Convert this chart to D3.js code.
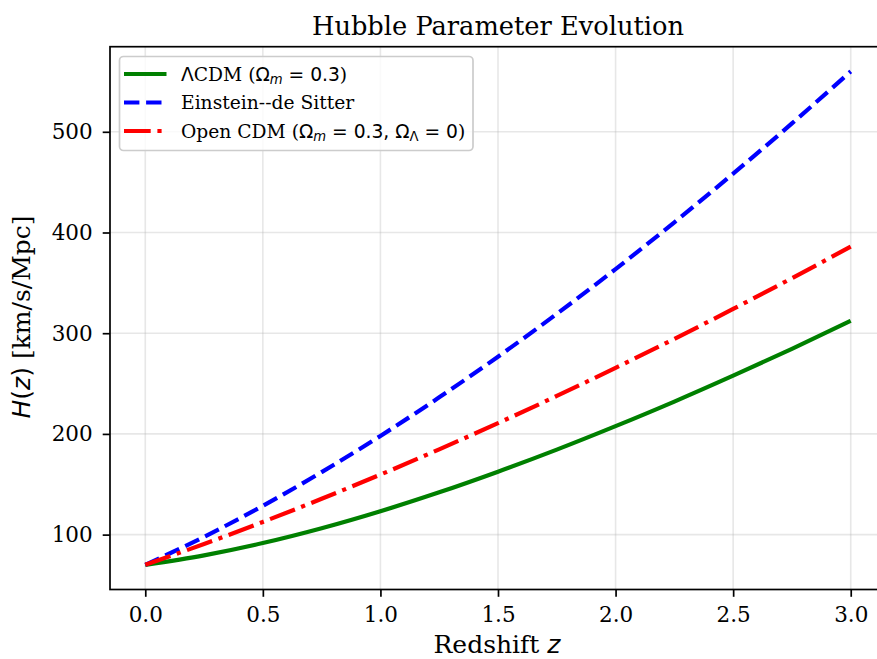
<!DOCTYPE html>
<html lang="en">
<head>
<meta charset="UTF-8">
<title>Hubble Parameter Evolution</title>
<style>
  body { margin: 0; background: #fff; }
  svg { display: block; }
  text { font-family: "DejaVu Serif", serif; fill: #000; }
  .m { font-family: "DejaVu Sans", sans-serif; }
</style>
</head>
<body>
<div id="chart"></div>
<script src="https://cdn.jsdelivr.net/npm/d3@7/dist/d3.min.js"></script>
<script>
  // values (km/s/Mpc)
  const redshift = [0, 0.25, 0.5, 0.75, 1.0, 1.25, 1.5, 1.75, 2.0, 2.25, 2.5, 2.75, 3.0];
  const lcdm     = [70, 79.4, 91.6, 106.3, 123.2, 142.0, 162.5, 184.4, 207.7, 232.1, 257.8, 284.5, 312.3];
  const eds      = [70, 97.8, 128.6, 162.1, 198.0, 236.3, 276.7, 319.2, 363.7, 410.1, 458.4, 508.3, 560.0];
  const openCdm  = [70, 90.7, 112.6, 135.6, 159.6, 184.7, 210.7, 237.7, 265.6, 294.4, 324.1, 354.6, 386.0];
  const xTicks = [0, 0.5, 1.0, 1.5, 2.0, 2.5, 3.0];
  const yTicks = [100, 200, 300, 400, 500];

  const W = 877, H = 659;
  const plotL = 110, plotR = 886, plotT = 46.7, plotB = 589.5;

  const svg = d3.select("#chart").append("svg")
    .attr("width", W)
    .attr("height", H);

  const x = d3.scaleLinear().domain([-0.15, 3.15]).range([plotL, plotR]);
  const y = d3.scaleLinear().domain([45.5, 584.5]).range([plotB, plotT]);

  // grid
  svg.append("g").selectAll("line").data(xTicks).join("line")
    .attr("x1", d => x(d)).attr("x2", d => x(d))
    .attr("y1", plotT).attr("y2", plotB)
    .attr("stroke", "#b0b0b0").attr("stroke-opacity", 0.3).attr("stroke-width", 1.6);
  svg.append("g").selectAll("line").data(yTicks).join("line")
    .attr("x1", plotL).attr("x2", plotR)
    .attr("y1", d => y(d)).attr("y2", d => y(d))
    .attr("stroke", "#b0b0b0").attr("stroke-opacity", 0.3).attr("stroke-width", 1.6);

  const series = [
    { name: "lcdm", values: lcdm, color: "green", dash: null },
    { name: "eds", values: eds, color: "blue", dash: "15.4,6.7" },
    { name: "open", values: openCdm, color: "red", dash: "26.7,6.7,4.2,6.7" }
  ];

  const line = d3.line()
    .x((d, i) => x(redshift[i]))
    .y(d => y(d))
    .curve(d3.curveMonotoneX);

  svg.append("g").selectAll("path").data(series).join("path")
    .attr("fill", "none")
    .attr("stroke", d => d.color)
    .attr("stroke-width", 4.2)
    .attr("stroke-dasharray", d => d.dash)
    .attr("d", d => line(d.values));

  // axes
  const xAxis = svg.append("g")
    .attr("transform", "translate(0," + plotB + ")")
    .call(d3.axisBottom(x).tickValues(xTicks).tickFormat(d3.format(".1f")).tickSizeOuter(0).tickSize(7.3).tickPadding(10));
  const yAxis = svg.append("g")
    .attr("transform", "translate(" + plotL + ",0)")
    .call(d3.axisLeft(y).tickValues(yTicks).tickSizeOuter(0).tickSize(7.3).tickPadding(10));
  [xAxis, yAxis].forEach(a => {
    a.select(".domain").remove();
    a.selectAll(".tick line").attr("stroke", "#000").attr("stroke-width", 1.7);
    a.selectAll(".tick text").attr("font-family", "DejaVu Serif").attr("font-size", 21.5).attr("fill", "#000");
  });

  // spines (right one falls outside the crop)
  svg.append("rect")
    .attr("x", plotL).attr("y", plotT)
    .attr("width", plotR - plotL).attr("height", plotB - plotT)
    .attr("fill", "none").attr("stroke", "#000").attr("stroke-width", 1.7);

  // title and labels
  svg.append("text")
    .attr("x", 498).attr("y", 34.5)
    .attr("text-anchor", "middle")
    .attr("font-size", 25.7)
    .text("Hubble Parameter Evolution");

  const xl = svg.append("text")
    .attr("x", 497).attr("y", 653)
    .attr("text-anchor", "middle")
    .attr("font-size", 25);
  xl.append("tspan").text("Redshift ");
  xl.append("tspan").attr("class", "m").attr("font-style", "italic").text("z");

  const yl = svg.append("text")
    .attr("transform", "translate(30,317) rotate(-90)")
    .attr("text-anchor", "middle")
    .attr("font-size", 25);
  yl.append("tspan").attr("class", "m").attr("font-style", "italic").text("H");
  yl.append("tspan").attr("class", "m").text("(");
  yl.append("tspan").attr("class", "m").attr("font-style", "italic").text("z");
  yl.append("tspan").attr("class", "m").text(")");
  yl.append("tspan").text(" [km/s/Mpc]");

  // legend
  const lg = svg.append("g");
  lg.append("rect")
    .attr("x", 119.5).attr("y", 56.5)
    .attr("width", 353.5).attr("height", 94)
    .attr("rx", 4)
    .attr("fill", "#fff").attr("fill-opacity", 0.8)
    .attr("stroke", "#cccccc").attr("stroke-width", 1.7);

  // [text, kind]: t = serif text, m = math, s = italic subscript, u = upright subscript
  const labels = [
    [["Λ", "m"], ["CDM (", "t"], ["Ω", "m"], ["m", "s"], [" = 0.3", "m"], [")", "t"]],
    [["Einstein--de Sitter", "t"]],
    [["Open CDM (", "t"], ["Ω", "m"], ["m", "s"], [" = 0.3, ", "m"], ["Ω", "m"], ["Λ", "u"], [" = 0", "m"], [")", "t"]]
  ];
  const rowY = [74, 102.5, 131];

  series.forEach((s, i) => {
    lg.append("line")
      .attr("x1", 124).attr("x2", 166.5)
      .attr("y1", rowY[i]).attr("y2", rowY[i])
      .attr("stroke", s.color).attr("stroke-width", 4.2)
      .attr("stroke-dasharray", s.dash);
    const t = lg.append("text")
      .attr("x", 181).attr("y", rowY[i] + 6.5)
      .attr("font-size", 18.7);
    let inSub = false;
    labels[i].forEach(([str, kind]) => {
      const sp = t.append("tspan").text(str);
      const isSub = kind === "s" || kind === "u";
      if (kind !== "t") sp.attr("class", "m");
      if (isSub) {
        sp.attr("font-size", 13.2).attr("dy", 3.8);
        if (kind === "s") sp.attr("font-style", "italic");
      } else if (inSub) {
        sp.attr("dy", -3.8);
      }
      inSub = isSub;
    });
  });
</script>
</body>
</html>
